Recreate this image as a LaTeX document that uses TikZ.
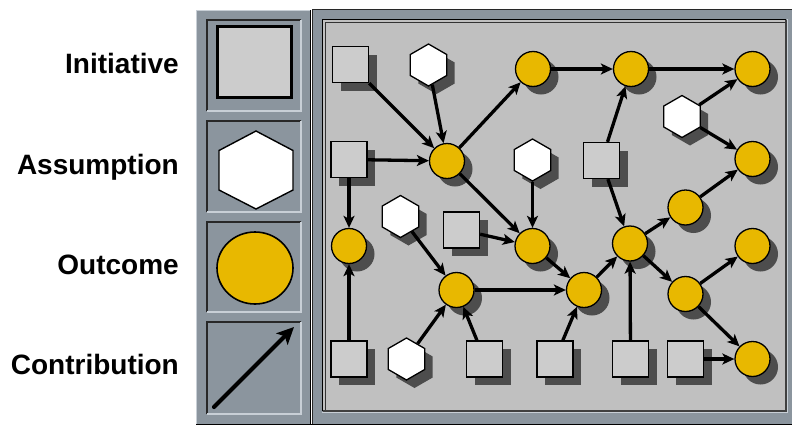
\documentclass[tikz,border=0pt]{standalone}
\usepackage{fontspec}
\setmainfont{Liberation Sans}
\usetikzlibrary{arrows.meta,shapes.geometric,shadows}

\definecolor{panelgray}{RGB}{139,149,158}
\definecolor{bggray}{RGB}{192,192,192}
\definecolor{sqfill}{RGB}{204,204,204}
\definecolor{shadowgray}{RGB}{77,77,77}
\definecolor{gold}{RGB}{232,184,0}
\definecolor{lightedge}{RGB}{200,207,214}
\definecolor{darkedge}{RGB}{40,40,40}

\tikzset{
 shad/.style={drop shadow={shadow xshift=8pt,shadow yshift=-8pt,fill=shadowgray,opacity=1}},
 ini/.style={shad, draw=black, line width=1.3pt, fill=sqfill, rectangle, minimum size=36pt, inner sep=0pt},
 asm/.style={shad, draw=black, line width=1.3pt, fill=white, regular polygon, regular polygon sides=6, shape border rotate=30, minimum size=42pt, inner sep=0pt},
 outc/.style={shad, draw=black, line width=1.3pt, fill=gold, circle, minimum size=35pt, inner sep=0pt},
 contrib/.style={line width=3.3pt, -{Stealth[length=12pt,width=11pt,inset=3pt]}},
 lab/.style={font=\bfseries\fontsize{28}{30}\selectfont, anchor=base east, inner sep=0pt},
 cellbox/.style={line width=1.2pt},
}

\begin{document}
\begin{tikzpicture}[x=1pt,y=-1pt]
\useasboundingbox (0,0) rectangle (792,426);

% ---------- legend panel ----------
\fill[panelgray] (196,10) rectangle (311,424);
\draw[lightedge, line width=1pt] (196.5,424) -- (196.5,10.5) -- (310,10.5);
\draw[black, line width=1.2pt] (196,424.4) -- (310.6,424.4) -- (310.6,10);
\foreach \ya/\yb in {20/111,121/212,222/312,322/414}{
  \draw[cellbox, darkedge] (207,\yb) -- (207,\ya) -- (301,\ya);
  \draw[cellbox, lightedge] (207,\yb) -- (301,\yb) -- (301,\ya);
}

% legend symbols
\node[draw=black, line width=2.4pt, fill=sqfill, rectangle, minimum width=74pt, minimum height=71pt, inner sep=0pt] (lsq) at (254.5,62) {};
\draw[draw=black, line width=1.4pt, fill=white] (256,131) -- (293,150.5) -- (293,190) -- (256,209) -- (219,190) -- (219,150.5) -- cycle;
\node[draw=black, line width=1.6pt, fill=gold, ellipse, minimum width=76pt, minimum height=72pt, inner sep=0pt] (lci) at (255,268) {};
\coordinate (la1) at (214,407);
\coordinate (la2) at (294,327);
\draw[line width=4.2pt, line cap=round, -{Stealth[length=17pt,width=16pt,inset=4pt]}] (la1) -- (la2);

% legend labels
\node[lab] (t1) at (179,73.5) {Initiative};
\node[lab] (t2) at (179,174.5) {Assumption};
\node[lab] (t3) at (179,274.5) {Outcome};
\node[lab] (t4) at (179,374) {Contribution};

% ---------- main panel ----------
\fill[panelgray] (311.5,9) rectangle (792,424);
\draw[darkedge, line width=1pt] (312,424) -- (312,9.5) -- (792,9.5);
\draw[black, line width=1.2pt] (311,424.4) -- (792,424.4);
\fill[bggray] (323,20) rectangle (786,411);
\draw[black, line width=1.2pt] (322.5,411) -- (322.5,19.5) -- (786,19.5);
\draw[black!80, line width=1pt] (325,410) -- (325,22) -- (785,22);
\draw[black!75, line width=2pt] (323,410.5) -- (785.5,410.5) -- (785.5,20);
\draw[lightedge, line width=1pt] (322,412.5) -- (787.5,412.5) -- (787.5,19);

% nodes
\node[ini] (A) at (350.5,64.5) {};
\node[asm] (H1) at (428.5,65) {};
\node[outc] (O1) at (533,69) {};
\node[outc] (O2) at (447,161) {};
\node[ini] (B) at (349,159.5) {};
\node[asm] (H2) at (532.5,160) {};
\node[outc] (O3) at (631,69) {};
\node[outc] (O4) at (752.5,69) {};
\node[asm] (H3) at (682,116.5) {};
\node[outc] (O5) at (752.5,159) {};
\node[ini] (C) at (601.5,160.5) {};
\node[outc] (O6) at (685.5,207.5) {};
\node[outc] (O7) at (349,246) {};
\node[asm] (H4) at (400.5,216.5) {};
\node[ini] (D) at (461.5,230) {};
\node[outc] (O8) at (532.5,246) {};
\node[outc] (O9) at (456.5,290) {};
\node[ini] (E) at (349,359) {};
\node[asm] (H5) at (406.5,359) {};
\node[ini] (F) at (484.5,359) {};
\node[ini] (G) at (555,359) {};
\node[outc] (O10) at (584,290) {};
\node[outc] (O11) at (630,243.5) {};
\node[outc] (O12) at (752.5,246) {};
\node[outc] (O13) at (685.5,294) {};
\node[outc] (O14) at (752.5,359) {};
\node[ini] (H) at (630.5,359) {};
\node[ini] (I) at (685.5,359) {};

% contributions
\draw[contrib] (A) -- (O2);
\draw[contrib] (H1) -- (O2);
\draw[contrib] (B) -- (O2);
\draw[contrib] (O2) -- (O1);
\draw[contrib] (O1) -- (O3);
\draw[contrib] (O3) -- (O4);
\draw[contrib] (O2) -- (O8);
\draw[contrib] (H2) -- (O8);
\draw[contrib] (D) -- (O8);
\draw[contrib] (B) -- (O7);
\draw[contrib] (E) -- (O7);
\draw[contrib] (H4) -- (O9);
\draw[contrib] (H5) -- (O9);
\draw[contrib] (F) -- (O9);
\draw[contrib] (O9) -- (O10);
\draw[contrib] (O8) -- (O10);
\draw[contrib] (G) -- (O10);
\draw[contrib] (O10) -- (O11);
\draw[contrib] (C) -- (O3);
\draw[contrib] (C) -- (O11);
\draw[contrib] (O11) -- (O6);
\draw[contrib] (O6) -- (O5);
\draw[contrib] (H3) -- (O4);
\draw[contrib] (H3) -- (O5);
\draw[contrib] (H) -- (O11);
\draw[contrib] (O11) -- (O13);
\draw[contrib] (O13) -- (O12);
\draw[contrib] (O13) -- (O14);
\draw[contrib] (I) -- (O14);
\end{tikzpicture}
\end{document}
